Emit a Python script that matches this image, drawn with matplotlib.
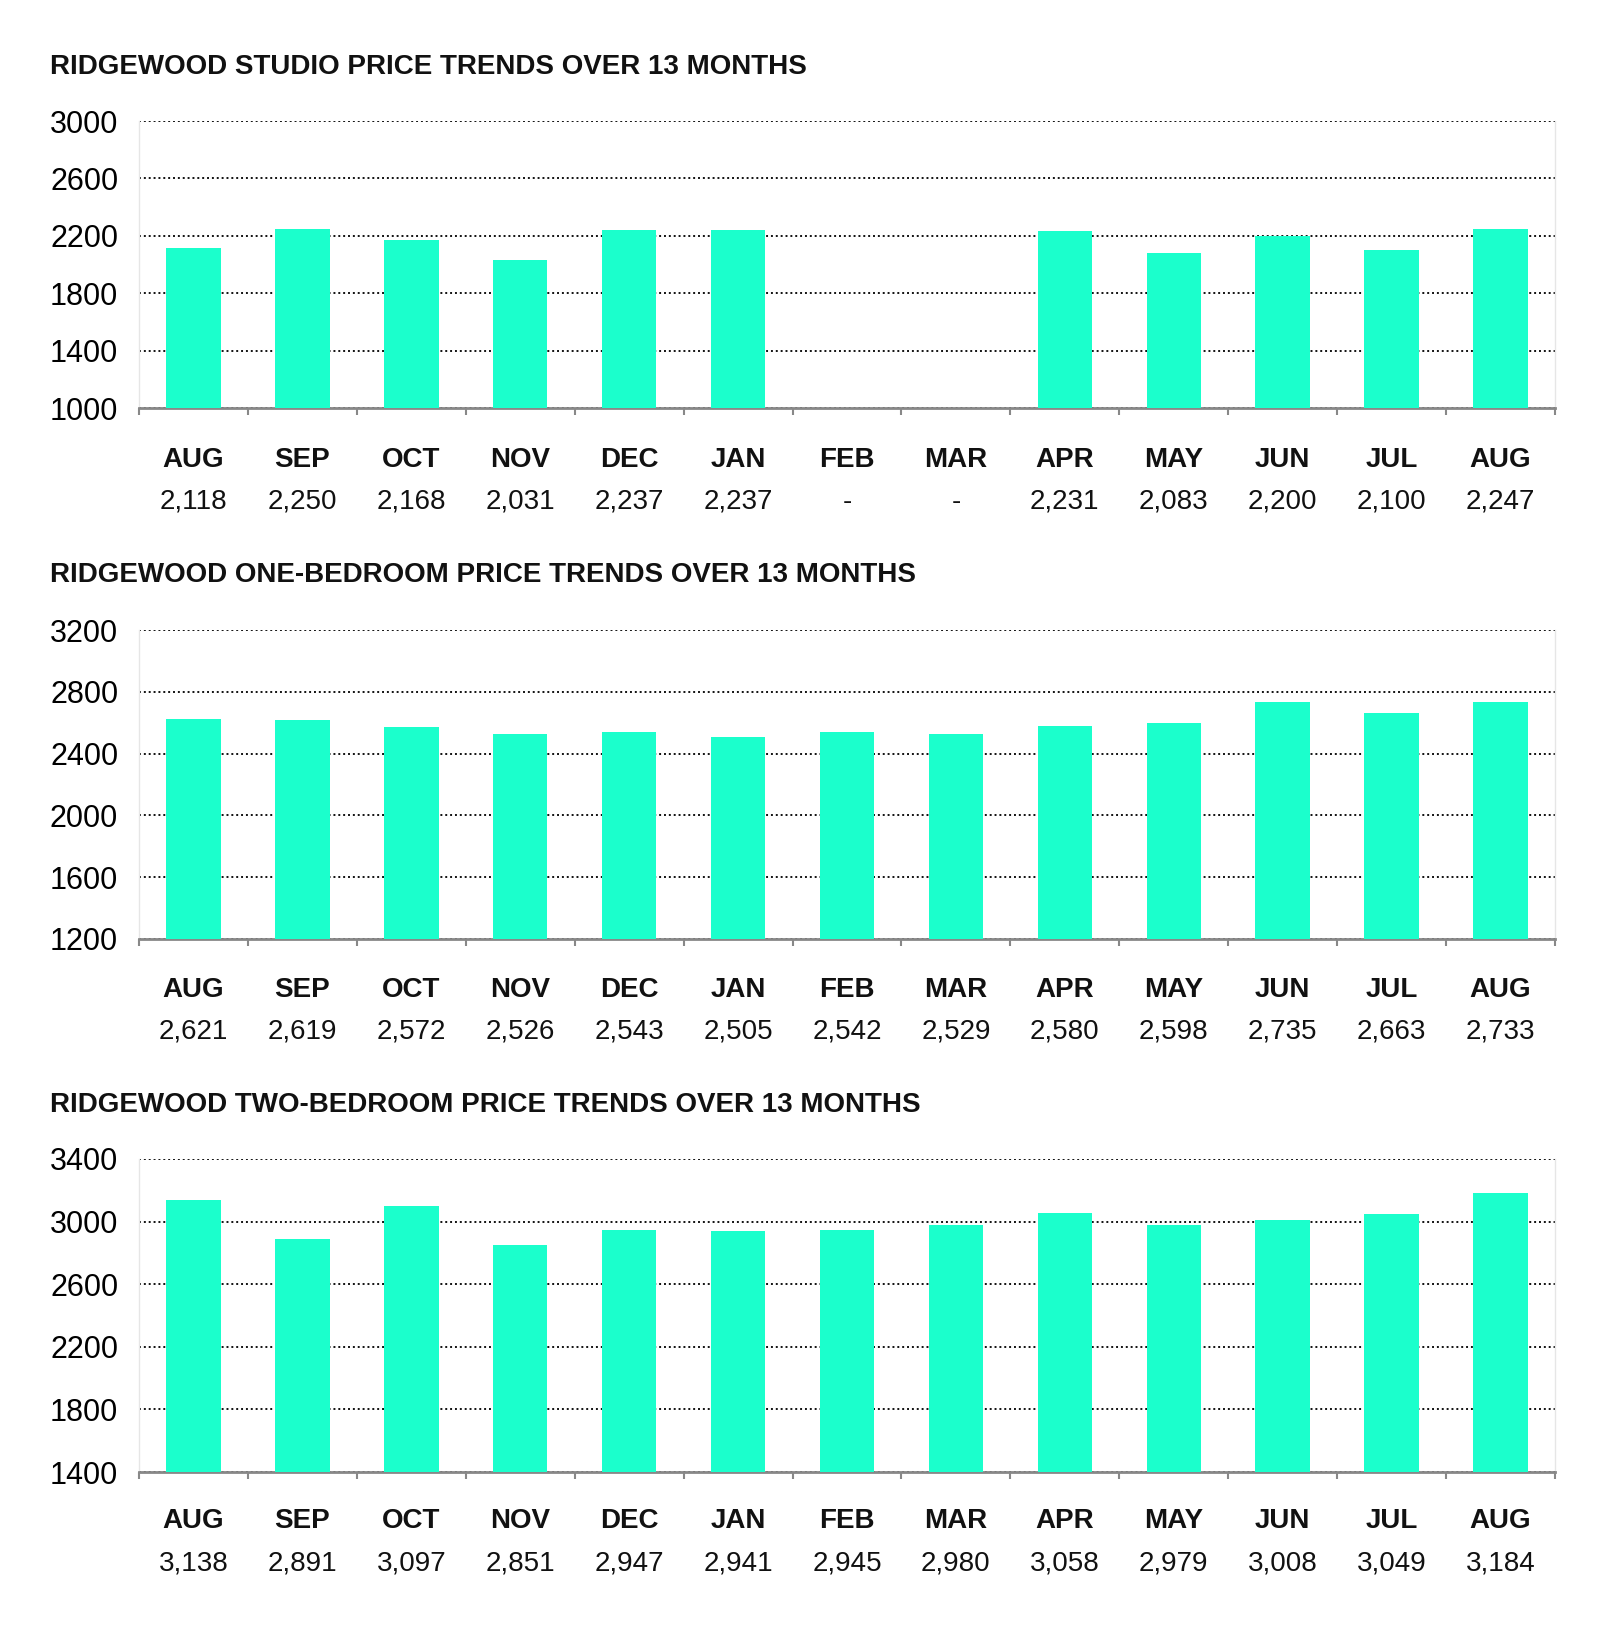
import matplotlib.pyplot as plt
import numpy as np

months = ["AUG", "SEP", "OCT", "NOV", "DEC", "JAN", "FEB", "MAR",
          "APR", "MAY", "JUN", "JUL", "AUG"]

studio = [2118, 2250, 2168, 2031, 2237, 2237, None, None,
          2231, 2083, 2200, 2100, 2247]
one_bed = [2621, 2619, 2572, 2526, 2543, 2505, 2542, 2529,
           2580, 2598, 2735, 2663, 2733]
two_bed = [3138, 2891, 3097, 2851, 2947, 2941, 2945, 2980,
           3058, 2979, 3008, 3049, 3184]

titles = ["RIDGEWOOD STUDIO PRICE TRENDS OVER 13 MONTHS",
          "RIDGEWOOD ONE-BEDROOM PRICE TRENDS OVER 13 MONTHS",
          "RIDGEWOOD TWO-BEDROOM PRICE TRENDS OVER 13 MONTHS"]
y_ranges = [(1000, 3000), (1200, 3200), (1400, 3400)]

BAR_COLOR = "#1bffcc"
FONT = "Liberation Sans"

W, H = 1600, 1636
fig = plt.figure(figsize=(W / 100, H / 100), dpi=100)

# pixel boxes (top, bottom) of each plot area, and text rows
panels = [
    dict(top=121, bottom=408, title_y=67, month_y=460, val_y=502),
    dict(top=630, bottom=939, title_y=575, month_y=990, val_y=1032),
    dict(top=1159, bottom=1472, title_y=1105, month_y=1521, val_y=1563),
]
left_px, right_px = 139, 1555

for series, title, (ymin, ymax), p in zip([studio, one_bed, two_bed], titles, y_ranges, panels):
    ax = fig.add_axes([left_px / W, 1 - p["bottom"] / H,
                       (right_px - left_px) / W, (p["bottom"] - p["top"]) / H])
    x = np.arange(len(months))
    vals = np.array([np.nan if v is None else v for v in series], dtype=float)
    ax.bar(x, np.nan_to_num(vals - ymin, nan=0), bottom=ymin, width=0.5,
           color=BAR_COLOR, zorder=3)
    ax.set_xlim(-0.5, len(months) - 0.5)
    ax.set_ylim(ymin, ymax)
    ticks = np.arange(ymin, ymax + 1, 400)
    ax.set_yticks(ticks)
    ax.set_yticklabels([str(t) for t in ticks], fontsize=22, family=FONT)
    ax.yaxis.grid(True, linestyle=(0, (1, 1.5)), color="#111111", linewidth=1.4, zorder=1)
    ax.tick_params(axis="y", length=0, pad=15)
    ax.set_xticks(np.arange(-0.5, len(months), 1))
    ax.set_xticklabels([])
    ax.tick_params(axis="x", length=5, color="#888888", width=1.5, direction="out")
    for s in ["left", "right", "top"]:
        ax.spines[s].set_color("#e6e6e6")
        ax.spines[s].set_linewidth(1)
    ax.spines["top"].set_visible(False)
    ax.spines["bottom"].set_color("#888888")
    ax.spines["bottom"].set_linewidth(2)

    fig.text(50 / W, 1 - p["title_y"] / H, title, fontsize=20, family=FONT,
             fontweight="bold", va="center", ha="left", color="#111111")
    for i, m in enumerate(months):
        xf = (left_px + (i + 0.5) * (right_px - left_px) / len(months)) / W
        fig.text(xf, 1 - p["month_y"] / H, m, fontsize=20, family=FONT,
                 fontweight="bold", ha="center", va="center", color="#111111")
        label = "-" if series[i] is None else f"{series[i]:,}"
        fig.text(xf, 1 - p["val_y"] / H, label, fontsize=20, family=FONT,
                 ha="center", va="center", color="#111111")

fig.savefig("out.png", dpi=100, facecolor="white")
